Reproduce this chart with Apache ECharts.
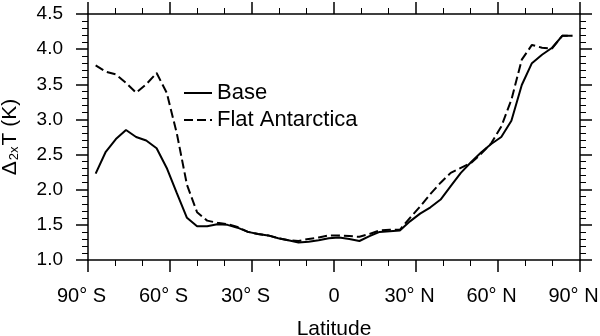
<!DOCTYPE html>
<html>
<head>
<meta charset="utf-8">
<script src="https://cdn.jsdelivr.net/npm/echarts@6/dist/echarts.min.js"></script>
<style>html,body{margin:0;padding:0;background:#fff}#c{width:600px;height:336px}</style>
</head>
<body>
<div id="c"></div>
<script>
var latitudes = [-87.2, -83.5, -79.8, -76.1, -72.4, -68.7, -64.9, -61.2, -57.5, -53.8, -50.1, -46.4,
  -42.7, -39.0, -35.3, -31.5, -27.8, -24.1, -20.4, -16.7, -13.0, -9.3, -5.6, -1.9,
  1.9, 5.6, 9.3, 13.0, 16.7, 20.4, 24.1, 27.8, 31.5, 35.3, 39.0, 42.7,
  46.4, 50.1, 53.8, 57.5, 61.2, 64.9, 68.7, 72.4, 76.1, 79.8, 83.5, 87.2];
var baseValues = [2.23, 2.54, 2.72, 2.85, 2.75, 2.70, 2.59, 2.31, 1.95, 1.60, 1.48, 1.48,
  1.51, 1.50, 1.46, 1.40, 1.37, 1.35, 1.31, 1.28, 1.25, 1.26, 1.28, 1.31,
  1.32, 1.30, 1.27, 1.34, 1.40, 1.41, 1.42, 1.55, 1.66, 1.75, 1.86, 2.05,
  2.24, 2.39, 2.53, 2.65, 2.75, 2.98, 3.49, 3.80, 3.92, 4.02, 4.19, 4.19];
var flatValues = [3.77, 3.68, 3.64, 3.52, 3.38, 3.50, 3.66, 3.38, 2.80, 2.07, 1.68, 1.56,
  1.53, 1.51, 1.47, 1.40, 1.37, 1.35, 1.31, 1.28, 1.27, 1.30, 1.32, 1.35,
  1.35, 1.34, 1.33, 1.37, 1.42, 1.43, 1.43, 1.60, 1.76, 1.94, 2.10, 2.24,
  2.31, 2.38, 2.51, 2.66, 2.90, 3.28, 3.85, 4.06, 4.02, 4.01, 4.19, 4.19];
var seriesNames = ['Base', 'Flat Antarctica'];
var xTickValues = [-90, -60, -30, 0, 30, 60, 90];
var yTickValues = [1.0, 1.5, 2.0, 2.5, 3.0, 3.5, 4.0, 4.5];

var FONT = '"Liberation Sans", Arial, Helvetica, sans-serif';
function pairs(vals) { return latitudes.map(function (l, i) { return [l, vals[i]]; }); }
function latLabel(v) {
  if (v === 0) return '0';
  return '{n|' + Math.abs(v) + '\u00b0 ' + (v < 0 ? 'S' : 'N') + '}';
}
var axisLine = { show: true, onZero: false, lineStyle: { color: '#000', width: 1.5 } };
function xAxisDef(pos, showLabel) {
  return {
    type: 'value', position: pos, min: xTickValues[0], max: xTickValues[xTickValues.length - 1], interval: 30,
    axisLine: axisLine,
    axisTick: { show: true, inside: false, length: 12, lineStyle: { color: '#000', width: 1.5 } },
    minorTick: { show: true, splitNumber: 3, length: 6, lineStyle: { color: '#000', width: 1 } },
    splitLine: { show: false },
    axisLabel: showLabel ? {
      show: true, margin: 26, color: '#000', fontSize: 20, fontFamily: FONT,
      formatter: latLabel,
      rich: { n: { padding: [0, 13, 0, 0], fontSize: 20, fontFamily: FONT, color: '#000' } }
    } : { show: false },
    name: showLabel ? 'Latitude' : '', nameLocation: 'middle', nameGap: 59,
    nameTextStyle: { color: '#000', fontSize: 21, fontFamily: FONT }
  };
}
function yAxisDef(pos, showLabel) {
  return {
    type: 'value', position: pos, min: yTickValues[0], max: yTickValues[yTickValues.length - 1], interval: 0.5,
    axisLine: axisLine,
    axisTick: { show: true, inside: false, length: 12, lineStyle: { color: '#000', width: 1.5 } },
    minorTick: { show: true, splitNumber: 5, length: 6, lineStyle: { color: '#000', width: 1 } },
    splitLine: { show: false },
    axisLabel: showLabel ? {
      show: true, margin: 25, color: '#000', fontSize: 19, fontFamily: FONT,
      formatter: function (v) { return v.toFixed(1); }
    } : { show: false },
    name: showLabel ? '{a|\u0394}{s|2x}{a|T (K)}' : '', nameLocation: 'middle', nameGap: 67,
    nameTextStyle: {
      color: '#000', fontFamily: FONT,
      rich: {
        a: { fontSize: 21, fontFamily: FONT, color: '#000' },
        s: { fontSize: 13, fontFamily: FONT, color: '#000', verticalAlign: 'bottom', padding: [8, 1, 0, 1] }
      }
    }
  };
}

var chart = echarts.init(document.getElementById('c'), null, { renderer: 'canvas' });
chart.setOption({
  animation: false,
  backgroundColor: '#fff',
  grid: { left: 88, right: 20, top: 14, bottom: 76, containLabel: false, outerBoundsMode: 'none' },
  legend: {
    data: seriesNames, orient: 'vertical', left: 183, top: 81, padding: 0,
    itemWidth: 28, itemHeight: 14, itemGap: 3,
    itemStyle: { opacity: 0, borderWidth: 0 },
    textStyle: { color: '#000', fontSize: 22, fontFamily: FONT, lineHeight: 24 }
  },
  xAxis: [xAxisDef('bottom', true), xAxisDef('top', false)],
  yAxis: [yAxisDef('left', true), yAxisDef('right', false)],
  series: [
    { name: seriesNames[0], type: 'line', data: pairs(baseValues), symbol: 'none',
      lineStyle: { color: '#000', width: 2, type: 'solid' }, itemStyle: { color: '#000' } },
    { name: seriesNames[1], type: 'line', data: pairs(flatValues), symbol: 'none',
      lineStyle: { color: '#000', width: 2, type: [9, 4] }, itemStyle: { color: '#000' } }
  ]
});
</script>
</body>
</html>
